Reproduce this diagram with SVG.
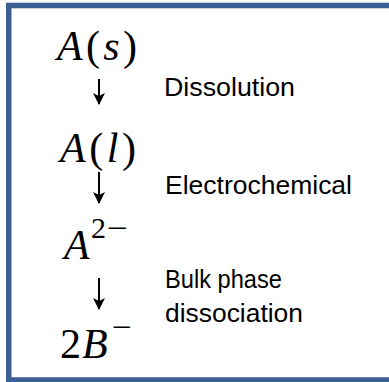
<svg xmlns="http://www.w3.org/2000/svg" width="389" height="382" viewBox="0 0 389 382">
<defs>
<style>
.math{font-family:"Liberation Serif","Times New Roman",serif;font-size:42px;fill:#000}
.it{font-style:italic}
.sup{font-size:30px}
.lbl{font-family:"Liberation Sans",Arial,sans-serif;font-size:26px;fill:#000}
.conn{stroke:#000;stroke-width:2;fill:none}
</style>
<marker id="ah" markerUnits="userSpaceOnUse" markerWidth="12" markerHeight="14" refX="11" refY="7" orient="auto" viewBox="0 0 12 14">
<path d="M0,1 L12,7 L0,13 L3,7 Z" fill="#000"/>
</marker>
</defs>
<rect x="0" y="0" width="389" height="382" fill="#fff"/>
<path d="M395,5.5 H8.75 V380 H395" fill="none" stroke="#3B5F95" stroke-width="5.5"/>
<g id="n1"><text class="math" x="57" y="60" textLength="80" lengthAdjust="spacing"><tspan class="it">A</tspan>(<tspan class="it">s</tspan>)</text></g>
<g id="n2"><text class="math" x="60" y="162" textLength="76" lengthAdjust="spacing"><tspan class="it">A</tspan>(<tspan class="it">l</tspan>)</text></g>
<g id="n3"><text class="math" x="64" y="259"><tspan class="it">A</tspan><tspan class="sup" x="91" y="238">2</tspan><tspan class="sup" x="107" y="238" textLength="21" lengthAdjust="spacingAndGlyphs">−</tspan></text></g>
<g id="n4"><text class="math" x="60" y="358">2<tspan class="it" x="82">B</tspan><tspan class="sup" x="112" y="337" textLength="20" lengthAdjust="spacingAndGlyphs">−</tspan></text></g>
<g id="connectors">
<line class="conn" x1="99" y1="79" x2="99" y2="104" marker-end="url(#ah)"/>
<line class="conn" x1="99" y1="172" x2="99" y2="203" marker-end="url(#ah)"/>
<line class="conn" x1="99" y1="278" x2="99" y2="309" marker-end="url(#ah)"/>
</g>
<g id="labels">
<text class="lbl" x="164" y="96" textLength="131" lengthAdjust="spacingAndGlyphs">Dissolution</text>
<text class="lbl" x="165" y="194" textLength="187" lengthAdjust="spacingAndGlyphs">Electrochemical</text>
<text class="lbl" x="165" y="288" textLength="117" lengthAdjust="spacingAndGlyphs">Bulk phase</text>
<text class="lbl" x="165" y="322" textLength="138" lengthAdjust="spacingAndGlyphs">dissociation</text>
</g>
</svg>
